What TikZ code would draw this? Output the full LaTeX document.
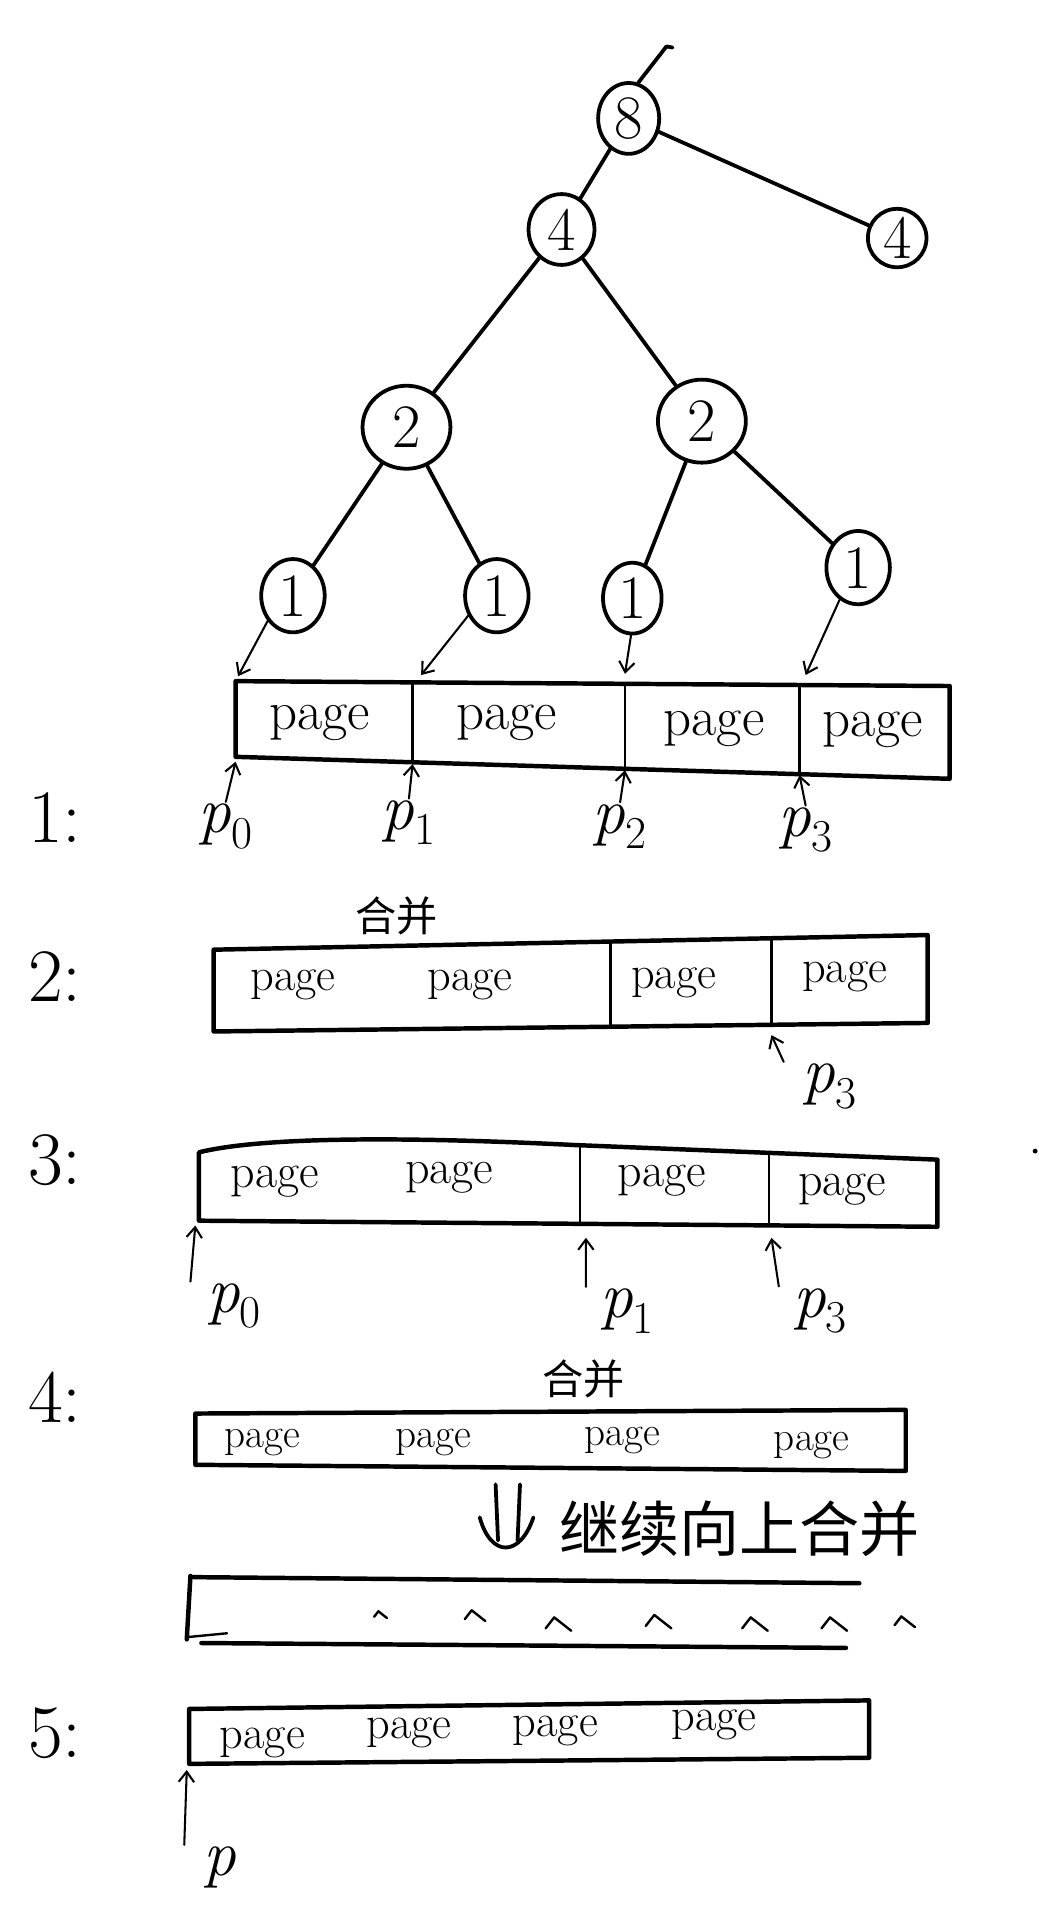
\documentclass[tikz,border=0pt]{standalone}
\usepackage{fontspec}
\newfontfamily\cjk{Noto Sans CJK SC}
\usetikzlibrary{shapes.geometric, arrows.meta}
\newcommand{\ptrname}[1]{\textit{p}\textsubscript{#1}}

\begin{document}
\begin{tikzpicture}[
  x=0.025cm, y=-0.025cm,
  >={Straight Barb[length=6pt,width=9pt]},
  line cap=round, line join=round,
  tnode/.style={draw, ellipse, line width=2.2pt, inner sep=0pt, font=\fontsize{36pt}{36pt}\selectfont},
  link/.style={line width=2.2pt},
  ptr/.style={->, line width=1.2pt},
  boxline/.style={line width=2.6pt},
  divider/.style={line width=1.4pt},
  pagetext/.style={font=\fontsize{#1pt}{#1pt}\selectfont, inner sep=0pt},
  rowlabel/.style={font=\fontsize{44pt}{44pt}\selectfont},
  plabel/.style={font=\fontsize{38pt}{38pt}\selectfont, inner sep=1pt},
  cjklabel/.style={font=\cjk\fontsize{#1pt}{#1pt}\selectfont, inner sep=0pt}
]
\useasboundingbox (0,0) rectangle (851,1568);

% Tree of counts
\node[tnode, minimum width=1.25cm, minimum height=1.45cm] (n8) at (515,97) {8};
\node[tnode, minimum width=1.35cm, minimum height=1.45cm] (n4a) at (460,188) {4};
\node[tnode, minimum width=1.2cm, minimum height=1.1cm] (n4b) at (735,195) {4};
\node[tnode, minimum width=1.8cm, minimum height=1.7cm] (n2a) at (333,350) {2};
\node[tnode, minimum width=1.8cm, minimum height=1.7cm] (n2b) at (575,345) {2};
\node[tnode, minimum width=1.3cm, minimum height=1.5cm] (n1a) at (240,488) {1};
\node[tnode, minimum width=1.3cm, minimum height=1.5cm] (n1b) at (407,488) {1};
\node[tnode, minimum width=1.2cm, minimum height=1.45cm] (n1c) at (518,490) {1};
\node[tnode, minimum width=1.3cm, minimum height=1.5cm] (n1d) at (703,465) {1};

\coordinate (stub) at (546,38);
\draw[link] (n8.75) -- (stub) -- ++(5,1);
\draw[link] (n8) -- (n4a);
\draw[link] (n8) -- (n4b);
\draw[link] (n4a) -- (n2a);
\draw[link] (n4a) -- (n2b);
\draw[link] (n2a) -- (n1a);
\draw[link] (n2a) -- (n1b);
\draw[link] (n2b) -- (n1c);
\draw[link] (n2b) -- (n1d);

% Step 1
\node[rowlabel] (s1) at (45,670) {1:};
\draw[boxline] (193,558) -- (778,562) -- (778,638) -- (193,620) -- cycle;
\draw[divider] (338,559) -- (338,624);
\draw[divider] (512,560) -- (512,630);
\draw[divider] (655,561) -- (655,634);
\node[pagetext=32] (r1a) at (262,592) {page};
\node[pagetext=32] (r1b) at (415,592) {page};
\node[pagetext=32] (r1c) at (585,597) {page};
\node[pagetext=32] (r1d) at (715,598) {page};
\coordinate (t0) at (195,554);
\coordinate (t1) at (345,553);
\coordinate (t2) at (512,552);
\coordinate (t3) at (660,553);
\draw[ptr] (n1a.225) -- (t0);
\draw[ptr] (n1b.215) -- (t1);
\draw[ptr] (n1c.268) -- (t2);
\draw[ptr] (n1d.240) -- (t3);
\coordinate (b10) at (193,624);
\coordinate (b11) at (338,626);
\coordinate (b12) at (512,631);
\coordinate (b13) at (655,635);
\node[plabel] (p10) at (185,677) {\ptrname{0}};
\node[plabel] (p11) at (335,674) {\ptrname{1}};
\node[plabel] (p12) at (508,677) {\ptrname{2}};
\node[plabel] (p13) at (660,680) {\ptrname{3}};
\draw[ptr] (p10.north) -- (b10);
\draw[ptr] (p11.north) -- (b11);
\draw[ptr] (p12.north) -- (b12);
\draw[ptr] (p13.north) -- (b13);

% Step 2
\node[rowlabel] (s2) at (45,800) {2:};
\node[cjklabel=24] (m2) at (325,750) {合并};
\draw[boxline] (175,778) -- (760,766) -- (760,838) -- (175,845) -- cycle;
\draw[divider] (500,772) -- (500,842);
\draw[divider] (632,768) -- (632,840);
\node[pagetext=27] (r2a) at (240,807) {page};
\node[pagetext=27] (r2b) at (385,807) {page};
\node[pagetext=27] (r2c) at (552,805) {page};
\node[pagetext=27] (r2d) at (692,800) {page};
\coordinate (b23) at (632,848);
\node[plabel] (p23) at (680,890) {\ptrname{3}};
\draw[ptr] ([xshift=-0.35cm]p23.north west) -- (b23);

% Step 3
\node[rowlabel] (s3) at (45,950) {3:};
\draw[boxline] (163,944) .. controls (220,930) and (350,932) .. (470,938) -- (768,950) -- (768,1005) -- (163,1000) -- cycle;
\draw[divider] (475,939) -- (475,1002);
\draw[divider] (630,944) -- (630,1003);
\node[pagetext=28] (r3a) at (225,968) {page};
\node[pagetext=28] (r3b) at (368,965) {page};
\node[pagetext=28] (r3c) at (542,967) {page};
\node[pagetext=28] (r3d) at (690,975) {page};
\coordinate (b30) at (160,1004);
\coordinate (b31) at (480,1014);
\coordinate (b33) at (632,1014);
\node[plabel] (p30) at (192,1070) {\ptrname{0}};
\node[plabel] (p31) at (514,1074) {\ptrname{1}};
\node[plabel] (p33) at (672,1074) {\ptrname{3}};
\draw[ptr] ([xshift=-0.3cm]p30.north west) -- (b30);
\draw[ptr] ([xshift=-0.25cm]p31.north west) -- (b31);
\draw[ptr] ([xshift=-0.25cm]p33.north west) -- (b33);
\fill (848,943) circle (2);

% Step 4
\node[rowlabel] (s4) at (45,1145) {4:};
\node[cjklabel=24] (m4) at (478,1130) {合并};
\draw[boxline] (160,1158) -- (742,1155) -- (742,1205) -- (160,1200) -- cycle;
\node[pagetext=24] (r4a) at (215,1182) {page};
\node[pagetext=24] (r4b) at (355,1182) {page};
\node[pagetext=24] (r4c) at (510,1180) {page};
\node[pagetext=24] (r4d) at (665,1184) {page};

% Keep merging upwards
\draw[link] (406,1216) -- (408,1262);
\draw[link] (426,1216) -- (424,1262);
\draw[link] (393,1243) .. controls (402,1276) and (426,1276) .. (437,1243);
\node[cjklabel=35, anchor=west] (up) at (458,1252) {继续向上合并};

\draw[boxline] (156,1291) -- (153,1343);
\draw[boxline] (156,1292) -- (704,1297);
\draw[boxline] (165,1346) -- (693,1350);
\draw[divider] (155,1341) -- (186,1338);
\foreach \cx/\cy/\s in {311/1323/0.5, 388/1324/0.8, 456/1331/1, 538/1329/1, 617/1331/1, 682/1331/1, 740/1329/0.8}
  \draw[divider] (\cx,\cy) ++(-9*\s,3*\s) -- ++(7*\s,-9*\s) -- ++(14*\s,11*\s);

% Step 5
\node[rowlabel] (s5) at (45,1420) {5:};
\draw[boxline] (155,1400) -- (712,1393) -- (712,1440) -- (155,1445) -- cycle;
\node[pagetext=27] (r5a) at (215,1428) {page};
\node[pagetext=27] (r5b) at (335,1420) {page};
\node[pagetext=27] (r5c) at (455,1418) {page};
\node[pagetext=27] (r5d) at (585,1413) {page};
\coordinate (b5) at (153,1450);
\node[plabel] (p5) at (180,1530) {\textit{p}};
\draw[ptr] ([xshift=-0.35cm]p5.north west) -- (b5);

\end{tikzpicture}
\end{document}
